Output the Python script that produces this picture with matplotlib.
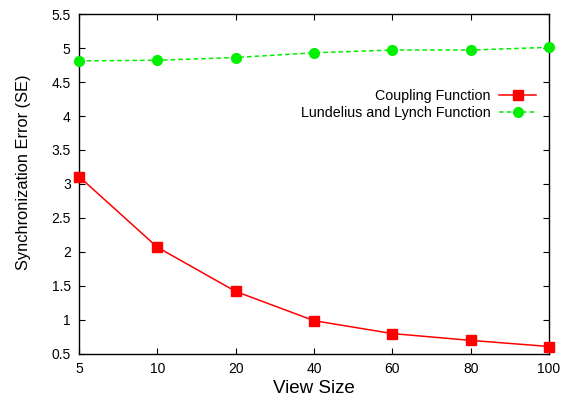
import matplotlib
matplotlib.use("Agg")
import matplotlib.pyplot as plt

plt.rcParams['font.family'] = ['Liberation Sans', 'DejaVu Sans']

VIEW_SIZES = ['5', '10', '20', '40', '60', '80', '100']
COUPLING = [3.11, 2.07, 1.42, 0.99, 0.80, 0.70, 0.61]
LUNDELIUS = [4.81, 4.82, 4.86, 4.93, 4.97, 4.97, 5.01]
Y_TICKS = [0.5, 1, 1.5, 2, 2.5, 3, 3.5, 4, 4.5, 5, 5.5]

fig = plt.figure(figsize=(5.66, 3.98), dpi=100)
ax = fig.add_axes([0.1396, 0.1106, 0.8304, 0.8542])

x = range(len(VIEW_SIZES))
ax.plot(x, COUPLING, color='#ff0000', linestyle='-', linewidth=1.1,
        marker='s', markersize=7.5, label='Coupling Function', clip_on=False, zorder=3)
ax.plot(x, LUNDELIUS, color='#00f000', linestyle=(0, (3, 2)), linewidth=1.1,
        marker='o', markersize=7, label='Lundelius and Lynch Function', clip_on=False, zorder=3)

ax.set_xlim(0, len(VIEW_SIZES) - 1)
ax.set_ylim(0.5, 5.5)
ax.set_xticks(list(x))
ax.set_xticklabels(VIEW_SIZES)
ax.set_yticks(Y_TICKS)
ax.set_yticklabels([f'{v:g}' for v in Y_TICKS])
ax.tick_params(direction='in', top=True, right=True, length=4.5, width=0.8,
               labelsize=10, pad=6)
for spine in ax.spines.values():
    spine.set_linewidth(1.0)

ax.set_xlabel('View Size', fontsize=13.5, labelpad=3)
ax.set_ylabel('Synchronization Error (SE)', fontsize=11.8)
ax.yaxis.set_label_coords(-0.102, 0.535)

ax.legend(loc='upper right', bbox_to_anchor=(0.985, 0.795), frameon=False,
          markerfirst=False, fontsize=10.3, handlelength=2.6, handletextpad=0.6,
          labelspacing=0.15, borderaxespad=0)

fig.savefig('out.png', dpi=100)
